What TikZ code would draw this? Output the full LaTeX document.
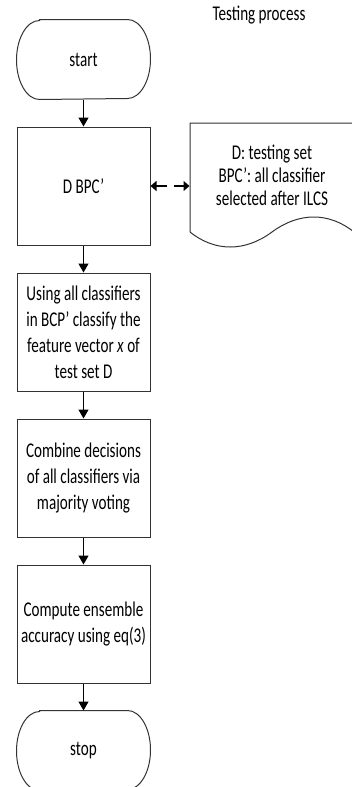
\documentclass[tikz,border=0pt]{standalone}
\usepackage{fontspec}
\setmainfont{Carlito}[FakeStretch=0.72]
\usetikzlibrary{arrows.meta}
\newcommand{\kapsel}[1]{%
    \draw[draw=black!80] ([xshift=23pt]#1.north west) -- ([xshift=-23pt]#1.north east)
        arc[start angle=90, end angle=-90, x radius=23pt, y radius=39.5pt]
        -- ([xshift=23pt]#1.south west)
        arc[start angle=270, end angle=90, x radius=23pt, y radius=39.5pt] -- cycle;}

\begin{document}
\begin{tikzpicture}[x=1pt, y=-1pt, line width=1pt,
    font=\fontsize{21}{26}\selectfont,
    box/.style={draw=black!80, minimum width=133pt, minimum height=118pt, align=center, inner sep=2pt},
    kapselbox/.style={minimum width=133pt, minimum height=79pt, align=center},
    pfeil/.style={-{Triangle[length=9pt, width=10pt]}, line width=1.3pt}]
    \useasboundingbox (0,0) rectangle (352,787);
    \clip (0,0) rectangle (352,787);

    % Titel.
    \node (titel) at (259,15) {Testing process};

    % Knoten.
    \node[kapselbox] (start) at (83.5,59.5) {start};
    \node[box] (dbpc) at (83.5,186) {D BPC’};
    \node[box] (klass) at (83.5,332) {Using all classifiers\\in BCP’ classify the\\feature vector \textit{x} of\\test set D};
    \node[box] (komb) at (83.5,478) {Combine decisions\\of all classifiers via\\majority voting};
    \node[box] (acc) at (83.5,624) {Compute ensemble\\accuracy using eq(3)};
    \node[kapselbox] (stop) at (83.5,750.5) {stop};
    \kapsel{start}
    \kapsel{stop}

    % Dokument.
    \draw[draw=black!80] (190,232) -- (190,123) -- (354,123) -- (354,232)
        .. controls (329,212) and (299,212) .. (272,232)
        .. controls (245,252) and (215,252) .. (190,232);
    \node[align=center, minimum width=164pt, font=\fontsize{21}{23}\selectfont] (doc) at (272,175)
        {D: testing set\\BPC’: all classifier\\selected after ILCS};

    % Pfeile.
    \foreach \a/\b in {start/dbpc, dbpc/klass, klass/komb, komb/acc, acc/stop}
    {
        \draw[pfeil] (\a) -- (\b);
    }
    \draw[{Triangle[length=6pt, width=10pt]}-{Triangle[length=6pt, width=10pt]}, line width=1.3pt,
        dash pattern=on 11pt off 7pt on 20pt] (dbpc.east) -- (dbpc.east -| doc.west);
\end{tikzpicture}
\end{document}
